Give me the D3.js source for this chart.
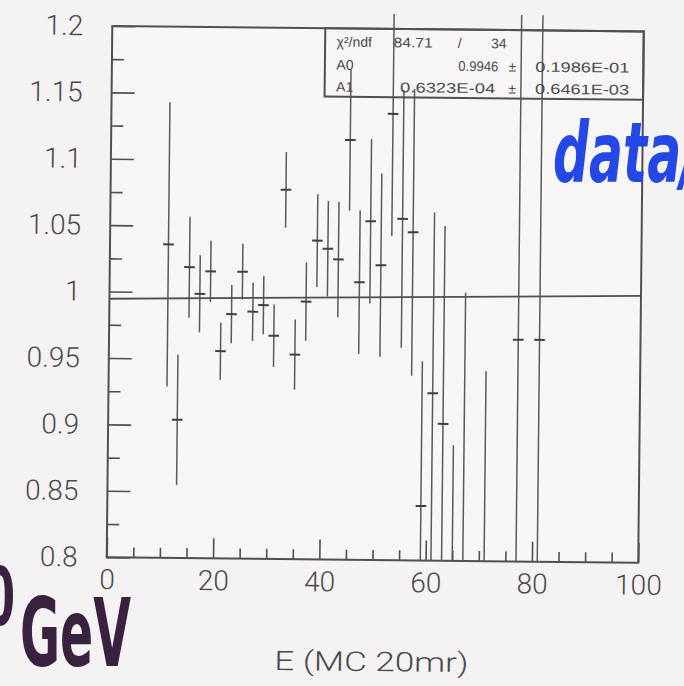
<!DOCTYPE html>
<html>
<head>
<meta charset="utf-8">
<script src="https://cdn.jsdelivr.net/npm/d3@7"></script>
<style>
  body { margin: 0; background: #f4f2f3; }
  svg { display: block; }
</style>
</head>
<body>
<div id="chart"></div>
<script>
// bin centres (GeV), data/MC ratio and its error
var energy = [11, 13, 15, 17, 19, 21, 23, 25, 27, 29, 31, 33, 35, 37, 39, 41,
              43, 45, 47, 49, 51, 53, 55, 57, 59, 61, 63, 65, 67, 71, 77, 81];
var ratio = [1.036, 0.904, 1.019, 0.999, 1.016, 0.956, 0.984, 1.016, 0.986, 0.991,
             0.968, 1.078, 0.954, 0.994, 1.040, 1.034, 1.026, 1.116, 1.009, 1.055,
             1.022, 1.136, 1.057, 1.047, 0.841, 0.926, 0.903, 0.740, 0.780, 0.700,
             0.967, 0.967];
var ratioErr = [0.107, 0.049, 0.038, 0.029, 0.023, 0.0215, 0.022, 0.021, 0.022, 0.022,
                0.0235, 0.0285, 0.0265, 0.0295, 0.035, 0.036, 0.0435, 0.053, 0.054, 0.062,
                0.069, 0.092, 0.097, 0.108, 0.109, 0.136, 0.149, 0.147, 0.222, 0.243,
                0.3, 0.3];

// straight line fit A0 + A1*E
var fitA0 = 0.9946;
var fitA1 = 0.6323e-4;

// stats box text
var statNames = ["χ²/ndf", "A0", "A1"];
var statValues = ["84.71", "0.9946", "0.6323E-04"];
var statErrors = ["34", "0.1986E-01", "0.6461E-03"];

var xTicks = [0, 20, 40, 60, 80, 100];
var yTicks = [0.8, 0.85, 0.9, 0.95, 1, 1.05, 1.1, 1.15, 1.2];

var W = 684, H = 686;
var frame = { left: 109.5, right: 641, top: 28.7, bottom: 560 };
var ink = "#505050";
var labelFont = "Roboto, 'Liberation Sans', sans-serif";

var svg = d3.select("#chart")
    .append("svg")
    .attr("width", W)
    .attr("height", H);

svg.append("rect")
    .attr("width", W)
    .attr("height", H)
    .attr("fill", "#f4f2f3");

// the scan is turned a little clockwise
var g = svg.append("g")
    .attr("transform", "rotate(0.6," + (frame.left + frame.right) / 2 + "," + (frame.top + frame.bottom) / 2 + ")");

var x = d3.scaleLinear().domain([0, 100]).range([frame.left, frame.right]);
var y = d3.scaleLinear().domain([0.8, 1.2]).range([frame.bottom, frame.top]);

g.append("rect")
    .attr("x", frame.left)
    .attr("y", frame.top)
    .attr("width", frame.right - frame.left)
    .attr("height", frame.bottom - frame.top)
    .attr("fill", "#f7f5f6")
    .attr("stroke", ink)
    .attr("stroke-width", 2);

// Y axis, major + minor ticks pointing inwards
var yFmt = function (d) { return String(+d.toFixed(2)); };
var yMinor = d3.pairs(yTicks).map(function (p) { return (p[0] + p[1]) / 2; });

g.append("g")
    .attr("transform", "translate(" + frame.left + ",0)")
    .call(d3.axisLeft(y).tickValues(yTicks).tickSize(-23).tickPadding(29).tickFormat(yFmt));

g.append("g")
    .attr("transform", "translate(" + frame.left + ",0)")
    .call(d3.axisLeft(y).tickValues(yMinor).tickSize(-12).tickFormat(""));

// X axis
var xMinor = d3.range(5, 100, 5).filter(function (d) { return d % 20 !== 0; });

g.append("g")
    .attr("transform", "translate(0," + frame.bottom + ")")
    .call(d3.axisBottom(x).tickValues(xTicks).tickSize(-20).tickPadding(12));

g.append("g")
    .attr("transform", "translate(0," + frame.bottom + ")")
    .call(d3.axisBottom(x).tickValues(xMinor).tickSize(-10).tickFormat(""));

g.selectAll(".domain").remove();
g.selectAll(".tick line")
    .attr("stroke", ink)
    .attr("stroke-width", 1.6);
g.selectAll(".tick text")
    .attr("fill", "#4a4a4a")
    .style("font-family", labelFont)
    .style("font-weight", 300)
    .style("font-size", "28px");

// axis title
g.append("text")
    .attr("x", (frame.left + frame.right) / 2)
    .attr("y", 671)
    .attr("text-anchor", "middle")
    .attr("textLength", 194)
    .attr("lengthAdjust", "spacingAndGlyphs")
    .attr("fill", "#4a4a4a")
    .style("font-family", labelFont)
    .style("font-weight", 300)
    .style("font-size", "27px")
    .text("E (MC 20mr)");

// error bars, clipped a bit above the frame like on the print
g.append("clipPath")
    .attr("id", "clip")
    .append("rect")
    .attr("x", frame.left)
    .attr("y", frame.top - 15)
    .attr("width", frame.right - frame.left)
    .attr("height", frame.bottom - frame.top + 15);

var pts = energy.map(function (e, i) {
    return { e: e, v: ratio[i], err: ratioErr[i] };
});

var bars = g.append("g").attr("clip-path", "url(#clip)");

bars.selectAll("line.err")
    .data(pts)
    .join("line")
    .attr("class", "err")
    .attr("x1", function (d) { return x(d.e); })
    .attr("x2", function (d) { return x(d.e); })
    .attr("y1", function (d) { return y(d.v + d.err); })
    .attr("y2", function (d) { return y(d.v - d.err); })
    .attr("stroke", "#5a5a5a")
    .attr("stroke-width", 1.5);

bars.selectAll("line.mark")
    .data(pts)
    .join("line")
    .attr("class", "mark")
    .attr("x1", function (d) { return x(d.e - 1); })
    .attr("x2", function (d) { return x(d.e + 1); })
    .attr("y1", function (d) { return y(d.v); })
    .attr("y2", function (d) { return y(d.v); })
    .attr("stroke", "#404040")
    .attr("stroke-width", 2);

// fit line
g.append("path")
    .datum([0, 100])
    .attr("fill", "none")
    .attr("stroke", ink)
    .attr("stroke-width", 1.8)
    .attr("d", d3.line()
        .x(function (d) { return x(d); })
        .y(function (d) { return y(fitA0 + fitA1 * d); }));

// stats box
var box = { left: 322.5, bottom: 97 };
g.append("rect")
    .attr("x", box.left)
    .attr("y", frame.top)
    .attr("width", frame.right - box.left)
    .attr("height", box.bottom - frame.top)
    .attr("fill", "none")
    .attr("stroke", ink)
    .attr("stroke-width", 2);

var rowY = [47, 70, 92];
var statText = g.append("g")
    .attr("fill", "#4a4a4a")
    .style("font-family", "'Liberation Sans', sans-serif")
    .style("font-size", "14px");

statNames.forEach(function (name, i) {
    statText.append("text").attr("x", 334).attr("y", rowY[i]).text(name);
});
// first row: chi2 / ndf
statText.append("text").attr("x", 391).attr("y", rowY[0])
    .attr("textLength", 39).attr("lengthAdjust", "spacingAndGlyphs").text(statValues[0]);
statText.append("text").attr("x", 457).attr("y", rowY[0]).attr("text-anchor", "middle").text("/");
statText.append("text").attr("x", 504).attr("y", rowY[0]).attr("text-anchor", "end").text(statErrors[0]);
// parameter rows
[1, 2].forEach(function (i) {
    var long = statValues[i].length > 7;
    statText.append("text")
        .attr("x", long ? 398 : 456)
        .attr("y", rowY[i])
        .attr("textLength", long ? 95 : 40)
        .attr("lengthAdjust", "spacingAndGlyphs")
        .text(statValues[i]);
    statText.append("text").attr("x", 510).attr("y", rowY[i]).attr("text-anchor", "middle").text("±");
    statText.append("text")
        .attr("x", 533)
        .attr("y", rowY[i])
        .attr("textLength", 94)
        .attr("lengthAdjust", "spacingAndGlyphs")
        .text(statErrors[i]);
});

// handwritten notes on the print
var hand = "'DejaVu Sans', sans-serif";

svg.append("text")
    .attr("transform", "translate(553,182) scale(0.6,1)")
    .attr("fill", "#2447e6")
    .style("font-family", hand)
    .style("font-weight", "bold")
    .style("font-style", "italic")
    .style("font-size", "84px")
    .text("data/");

svg.append("text")
    .attr("transform", "translate(15,625) scale(0.55,1)")
    .attr("text-anchor", "end")
    .attr("fill", "#3b2140")
    .style("font-family", hand)
    .style("font-weight", "bold")
    .style("font-size", "80px")
    .text("0");

svg.append("text")
    .attr("transform", "translate(20,666) scale(0.52,1)")
    .attr("fill", "#3b2140")
    .style("font-family", hand)
    .style("font-weight", "bold")
    .style("font-size", "94px")
    .text("GeV");
</script>
</body>
</html>
